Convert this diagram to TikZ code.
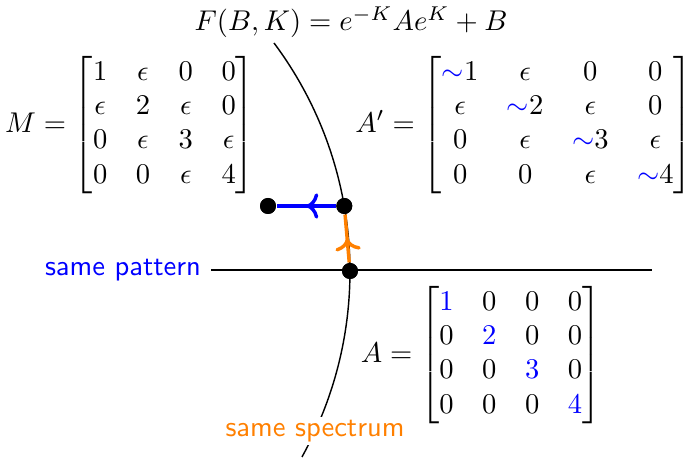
\documentclass[tikz,border=0pt]{standalone}
\usepackage{amsmath}
\usetikzlibrary{decorations.markings,arrows.meta}
\begin{document}
\begin{tikzpicture}[x=0.35pt,y=-0.35pt,
  dot/.style={circle,fill=black,inner sep=0pt,minimum size=5.6pt},
  mathlbl/.style={inner sep=0pt},
  sidelbl/.style={font=\sffamily},
  midarrow/.style={decoration={markings,mark=at position 0.5 with {\arrow{>}}},postaction={decorate}},
  flow/.style={line width=1.2pt,midarrow}]
\useasboundingbox (0,0) rectangle (686,460);
% curve
\coordinate (ctop) at (274,43);
\draw[line width=0.5pt] (ctop) arc[start angle=36.76, end angle=-29.03, radius=133.7pt];
% labels
\node[mathlbl] (F) at (351,22) {$F(B,K) = e^{-K}Ae^{K} + B$};
\node[mathlbl] (M) at (130,125) {$M = \begin{bmatrix}
1 & \epsilon & 0 & 0\\
\epsilon & 2 & \epsilon & 0\\
0 & \epsilon & 3 & \epsilon\\
0 & 0 & \epsilon & 4
\end{bmatrix}$};
\node[mathlbl] (Ap) at (524,125) {$A' = \begin{bmatrix}
{\color{blue}\sim}1 & \epsilon & 0 & 0\\
\epsilon & {\color{blue}\sim}2 & \epsilon & 0\\
0 & \epsilon & {\color{blue}\sim}3 & \epsilon\\
0 & 0 & \epsilon & {\color{blue}\sim}4
\end{bmatrix}$};
\node[mathlbl] (A) at (481,355) {$A = \begin{bmatrix}
{\color{blue}1} & 0 & 0 & 0\\
0 & {\color{blue}2} & 0 & 0\\
0 & 0 & {\color{blue}3} & 0\\
0 & 0 & 0 & {\color{blue}4}
\end{bmatrix}$};
\node[sidelbl,text=blue] (pat) at (123,270) {same pattern};
\node[sidelbl,text=orange,fill=white,inner sep=1pt] (spec) at (315,431) {same spectrum};
% horizontal line
\coordinate (hend) at (652,271);
\draw[line width=0.5pt] (pat.east) -- (pat.east -| hend);
% dots
\node[dot] (d1) at (268,206) {};
\node[dot] (d2) at (344.3,206) {};
\node[dot] (d3) at (350,271) {};
% flows
\draw[flow,blue] (d2) -- (d1);
\draw[flow,orange] (d3) -- (d2);
\node[dot] at (d1) {};
\node[dot] at (d2) {};
\node[dot] at (d3) {};
\end{tikzpicture}
\end{document}
